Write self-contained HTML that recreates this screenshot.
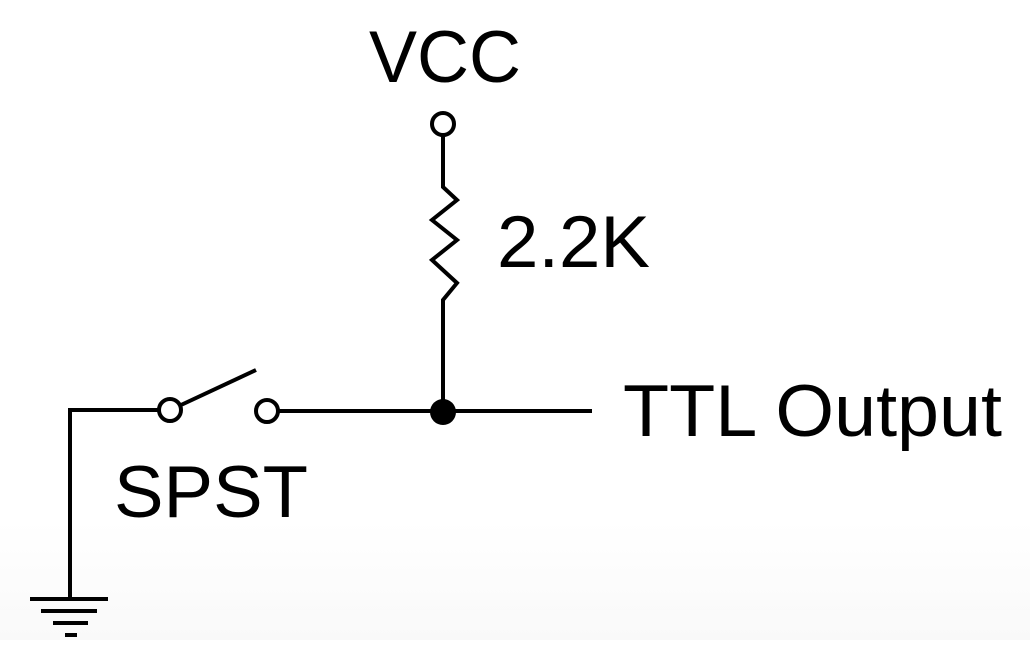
<!DOCTYPE html>
<html><head><style>html,body{margin:0;padding:0;background:#fff;}svg{display:block}</style></head>
<body>
<svg width="1030" height="658" viewBox="0 0 1030 658" xmlns="http://www.w3.org/2000/svg">
<defs><linearGradient id="g" x1="0" y1="0" x2="0" y2="1"><stop offset="0" stop-color="#fff"/><stop offset="1" stop-color="#f9f9f9"/></linearGradient></defs>
<rect width="1030" height="658" fill="#fff"/>
<rect x="0" y="520" width="1030" height="120" fill="url(#g)"/>
<g stroke="#000" stroke-width="4" fill="none" stroke-linejoin="miter">
<circle cx="443" cy="124" r="11" fill="#fff"/>
<polyline points="443,135 443,187 457,200 432,220 457,240 432,260 457,283 443,300 443,412"/>
<polyline points="70,600 70,410 159,410"/>
<circle cx="170" cy="410" r="11" fill="#fff"/>
<line x1="181" y1="405" x2="256" y2="370"/>
<circle cx="267" cy="411" r="11" fill="#fff"/>
<line x1="278" y1="411" x2="592" y2="411"/>
<line x1="30" y1="599" x2="108" y2="599"/>
<line x1="41" y1="611" x2="97" y2="611"/>
<line x1="53" y1="623" x2="88" y2="623"/>
<line x1="65" y1="635" x2="77" y2="635"/>
</g>
<circle cx="443" cy="412" r="13" fill="#000"/>
<g font-family="Liberation Sans, sans-serif" font-size="73" fill="#000">
<text x="369" y="82" textLength="152" lengthAdjust="spacingAndGlyphs">VCC</text>
<text x="497" y="267" textLength="153" lengthAdjust="spacingAndGlyphs">2.2K</text>
<text x="623" y="436" textLength="379" lengthAdjust="spacingAndGlyphs">TTL Output</text>
<text x="114" y="517" textLength="194" lengthAdjust="spacingAndGlyphs">SPST</text>
</g>
</svg>
</body></html>
